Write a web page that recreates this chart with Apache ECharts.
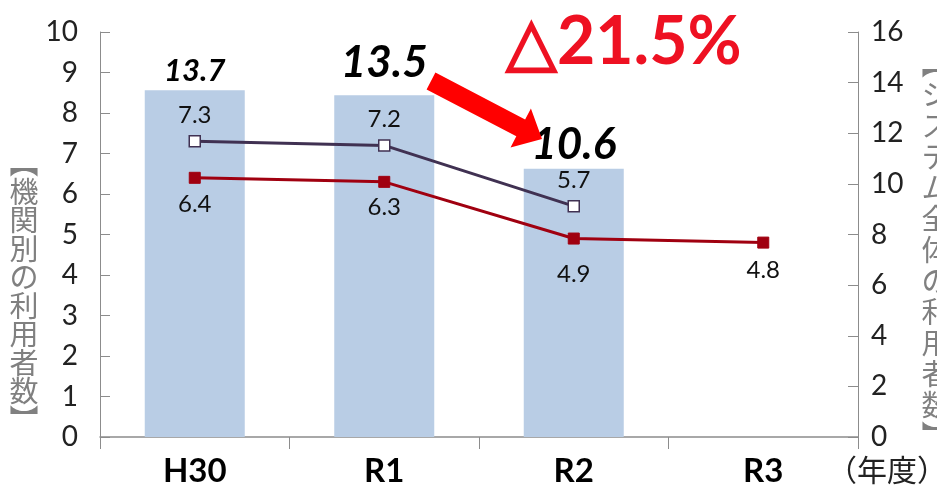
<!DOCTYPE html>
<html>
<head>
<meta charset="utf-8">
<script src="https://cdn.jsdelivr.net/npm/echarts@6/dist/echarts.min.js"></script>
<style>
html,body{margin:0;padding:0;background:#fff;}
#main{width:937px;height:493px;}
</style>
</head>
<body>
<div id="main"></div>
<script>
// ---- data ----
var categories = ['H30', 'R1', 'R2', 'R3'];
var totalUsers = [13.7, 13.5, 10.6, null];      // bars, right axis
var seriesA = [7.3, 7.2, 5.7, null];            // white square markers, left axis
var seriesB = [6.4, 6.3, 4.9, 4.8];             // red square markers, left axis
var leftTicks = {min: 0, max: 10, interval: 1};
var rightTicks = {min: 0, max: 16, interval: 2};
var leftTitle = '︻機関別の利用者数︼';
var rightTitle = '︻システム全体の利用者数︼';
var changeText = '△21.5%';
var unitText = '（年度）';

var numFont = 'Lato, sans-serif';

var chart = echarts.init(document.getElementById('main'));

var barLabelSizes = [31, 44, 44];
var barLabelDist = [4, 10, 2];
var barData = totalUsers.map(function (v, i) {
  if (v == null) return v;
  return {
    value: v,
    label: {
      show: true, position: 'top', fontSize: barLabelSizes[i], distance: barLabelDist[i],
      fontWeight: 'bold', fontStyle: 'italic', color: '#000', fontFamily: numFont
    }
  };
});

var bDist = [8, 7, 18, 10];
var seriesBData = seriesB.map(function (v, i) {
  return {value: v, label: {distance: bDist[i]}};
});

function arrowPoints(t, p, hw, headHw, headLen) {
  var dx = p[0] - t[0], dy = p[1] - t[1];
  var L = Math.sqrt(dx * dx + dy * dy);
  var ux = dx / L, uy = dy / L, nx = -uy, ny = ux;
  var b = [p[0] - ux * headLen, p[1] - uy * headLen];
  return [
    [t[0] + nx * hw, t[1] + ny * hw],
    [b[0] + nx * hw, b[1] + ny * hw],
    [b[0] + nx * headHw, b[1] + ny * headHw],
    p,
    [b[0] - nx * headHw, b[1] - ny * headHw],
    [b[0] - nx * hw, b[1] - ny * hw],
    [t[0] - nx * hw, t[1] - ny * hw]
  ];
}

function verticalText(str, cx, firstCenter, step, size) {
  return str.split('').map(function (ch, i) {
    return {
      type: 'text', x: cx, y: firstCenter + step * i,
      style: {
        text: ch, font: size + 'px Noto Sans CJK JP, sans-serif',
        fill: '#808080', align: 'center', verticalAlign: 'middle'
      }
    };
  });
}

var graphics = []
  .concat(verticalText(leftTitle, 24, 163, 28.5, 29))
  .concat(verticalText(rightTitle, 936, 64, 31, 29))
  .concat([{
    type: 'text', x: 827, y: 470,
    style: {text: unitText, font: '30px Noto Sans CJK JP, sans-serif', fill: '#222', verticalAlign: 'middle'}
  }, {
    type: 'text', x: 506, y: 43,
    style: {
      text: changeText, font: 'bold 66px Lato, sans-serif', fill: '#EE1122', verticalAlign: 'middle',
      shadowBlur: 4, shadowColor: 'rgba(238,17,34,0.25)'
    }
  }, {
    type: 'polygon',
    shape: {points: arrowPoints([431, 81], [542, 139], 9.5, 22, 24)},
    style: {fill: '#FF0000'}, z: 10
  }]);

chart.setOption({
  animation: false,
  grid: {left: 100, right: 79, top: 32, bottom: 56},
  xAxis: {
    type: 'category',
    data: categories,
    axisLine: {lineStyle: {color: '#8c8c8c', width: 1.5}},
    axisTick: {show: true, length: 12, lineStyle: {color: '#8c8c8c'}},
    axisLabel: {fontSize: 33, fontWeight: 'bold', color: '#000', fontFamily: numFont, margin: 18}
  },
  yAxis: [{
    type: 'value', min: leftTicks.min, max: leftTicks.max, interval: leftTicks.interval,
    position: 'left',
    splitLine: {show: false},
    axisLine: {show: true, lineStyle: {color: '#8c8c8c'}},
    axisTick: {show: true, inside: true, length: 10, lineStyle: {color: '#8c8c8c'}},
    axisLabel: {fontSize: 28, color: '#222', fontFamily: numFont, margin: 22}
  }, {
    type: 'value', min: rightTicks.min, max: rightTicks.max, interval: rightTicks.interval,
    position: 'right',
    splitLine: {show: false},
    axisLine: {show: true, lineStyle: {color: '#8c8c8c'}},
    axisTick: {show: true, inside: true, length: 10, lineStyle: {color: '#8c8c8c'}},
    axisLabel: {fontSize: 28, color: '#222', fontFamily: numFont, margin: 13}
  }],
  series: [{
    type: 'bar', yAxisIndex: 1, data: barData, barWidth: 100,
    itemStyle: {color: '#B9CDE5'}, z: 1
  }, {
    type: 'line', yAxisIndex: 0, data: seriesA,
    lineStyle: {color: '#403152', width: 3},
    symbol: 'rect', symbolSize: 11,
    itemStyle: {color: '#fff', borderColor: '#403152', borderWidth: 1.5},
    label: {show: true, position: 'top', distance: 8, fontSize: 24, color: '#111', fontFamily: numFont},
    z: 3
  }, {
    type: 'line', yAxisIndex: 0, data: seriesBData,
    lineStyle: {color: '#A00010', width: 3},
    symbol: 'rect', symbolSize: 11,
    itemStyle: {color: '#A00010', borderColor: '#A00010'},
    label: {show: true, position: 'bottom', distance: 7, fontSize: 24, color: '#111', fontFamily: numFont},
    z: 3
  }],
  graphic: graphics
});
</script>
</body>
</html>
